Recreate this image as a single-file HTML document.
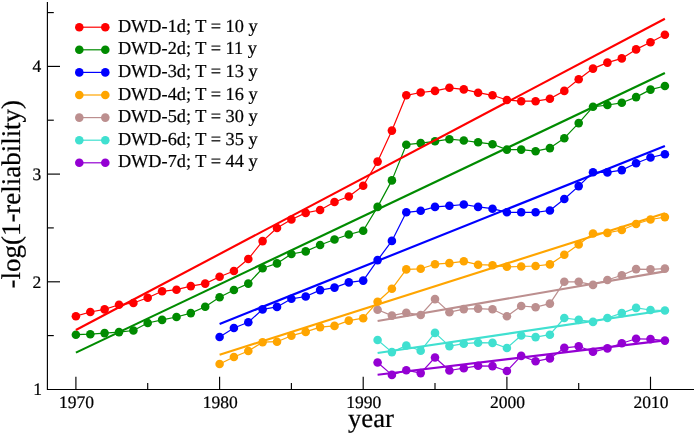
<!DOCTYPE html>
<html><head><meta charset="utf-8"><title>chart</title>
<style>
html,body{margin:0;padding:0;background:#fff;}
body{width:696px;height:435px;overflow:hidden;}
svg{display:block;will-change:transform;}
text{font-family:"Liberation Serif",serif;fill:#000;stroke:#000;stroke-width:0.22px;text-rendering:geometricPrecision;}
</style></head><body>
<svg width="696" height="435" viewBox="0 0 696 435">
<g stroke="#ff0000" fill="#ff0000">
<polyline points="75.9,316.2 90.3,312.0 104.6,309.4 119.0,304.8 133.4,303.0 147.7,297.8 162.1,291.3 176.5,289.7 190.8,286.1 205.2,283.6 219.6,276.7 233.9,271.0 248.3,259.0 262.6,241.1 277.0,228.0 291.4,219.5 305.7,212.9 320.1,210.0 334.5,202.0 348.8,196.5 363.2,185.8 377.6,161.6 391.9,130.6 406.3,95.3 420.7,92.5 435.0,90.9 449.4,87.8 463.8,89.4 478.1,92.7 492.5,95.3 506.9,100.0 521.2,101.2 535.6,101.2 549.9,98.8 564.3,90.9 578.7,79.2 593.0,68.6 607.4,62.6 621.8,58.4 636.1,49.4 650.5,42.3 664.9,34.8" fill="none" stroke-width="1.2" stroke-linejoin="round"/>
<circle cx="75.9" cy="316.2" r="4.3" stroke="none"/><circle cx="90.3" cy="312.0" r="4.3" stroke="none"/><circle cx="104.6" cy="309.4" r="4.3" stroke="none"/><circle cx="119.0" cy="304.8" r="4.3" stroke="none"/><circle cx="133.4" cy="303.0" r="4.3" stroke="none"/><circle cx="147.7" cy="297.8" r="4.3" stroke="none"/><circle cx="162.1" cy="291.3" r="4.3" stroke="none"/><circle cx="176.5" cy="289.7" r="4.3" stroke="none"/><circle cx="190.8" cy="286.1" r="4.3" stroke="none"/><circle cx="205.2" cy="283.6" r="4.3" stroke="none"/><circle cx="219.6" cy="276.7" r="4.3" stroke="none"/><circle cx="233.9" cy="271.0" r="4.3" stroke="none"/><circle cx="248.3" cy="259.0" r="4.3" stroke="none"/><circle cx="262.6" cy="241.1" r="4.3" stroke="none"/><circle cx="277.0" cy="228.0" r="4.3" stroke="none"/><circle cx="291.4" cy="219.5" r="4.3" stroke="none"/><circle cx="305.7" cy="212.9" r="4.3" stroke="none"/><circle cx="320.1" cy="210.0" r="4.3" stroke="none"/><circle cx="334.5" cy="202.0" r="4.3" stroke="none"/><circle cx="348.8" cy="196.5" r="4.3" stroke="none"/><circle cx="363.2" cy="185.8" r="4.3" stroke="none"/><circle cx="377.6" cy="161.6" r="4.3" stroke="none"/><circle cx="391.9" cy="130.6" r="4.3" stroke="none"/><circle cx="406.3" cy="95.3" r="4.3" stroke="none"/><circle cx="420.7" cy="92.5" r="4.3" stroke="none"/><circle cx="435.0" cy="90.9" r="4.3" stroke="none"/><circle cx="449.4" cy="87.8" r="4.3" stroke="none"/><circle cx="463.8" cy="89.4" r="4.3" stroke="none"/><circle cx="478.1" cy="92.7" r="4.3" stroke="none"/><circle cx="492.5" cy="95.3" r="4.3" stroke="none"/><circle cx="506.9" cy="100.0" r="4.3" stroke="none"/><circle cx="521.2" cy="101.2" r="4.3" stroke="none"/><circle cx="535.6" cy="101.2" r="4.3" stroke="none"/><circle cx="549.9" cy="98.8" r="4.3" stroke="none"/><circle cx="564.3" cy="90.9" r="4.3" stroke="none"/><circle cx="578.7" cy="79.2" r="4.3" stroke="none"/><circle cx="593.0" cy="68.6" r="4.3" stroke="none"/><circle cx="607.4" cy="62.6" r="4.3" stroke="none"/><circle cx="621.8" cy="58.4" r="4.3" stroke="none"/><circle cx="636.1" cy="49.4" r="4.3" stroke="none"/><circle cx="650.5" cy="42.3" r="4.3" stroke="none"/><circle cx="664.9" cy="34.8" r="4.3" stroke="none"/>
</g>
<g stroke="#008b00" fill="#008b00">
<polyline points="75.9,334.7 90.3,334.2 104.6,333.1 119.0,332.1 133.4,330.5 147.7,323.0 162.1,319.9 176.5,317.0 190.8,313.1 205.2,306.7 219.6,297.3 233.9,290.0 248.3,283.6 262.6,268.3 277.0,263.4 291.4,254.0 305.7,251.4 320.1,245.0 334.5,239.5 348.8,234.5 363.2,230.7 377.6,206.9 391.9,180.4 406.3,144.7 420.7,143.1 435.0,141.3 449.4,139.2 463.8,140.5 478.1,142.3 492.5,144.2 506.9,149.6 521.2,149.6 535.6,151.2 549.9,148.1 564.3,138.2 578.7,123.1 593.0,106.8 607.4,105.0 621.8,102.8 636.1,97.1 650.5,89.6 664.9,86.0" fill="none" stroke-width="1.2" stroke-linejoin="round"/>
<circle cx="75.9" cy="334.7" r="4.3" stroke="none"/><circle cx="90.3" cy="334.2" r="4.3" stroke="none"/><circle cx="104.6" cy="333.1" r="4.3" stroke="none"/><circle cx="119.0" cy="332.1" r="4.3" stroke="none"/><circle cx="133.4" cy="330.5" r="4.3" stroke="none"/><circle cx="147.7" cy="323.0" r="4.3" stroke="none"/><circle cx="162.1" cy="319.9" r="4.3" stroke="none"/><circle cx="176.5" cy="317.0" r="4.3" stroke="none"/><circle cx="190.8" cy="313.1" r="4.3" stroke="none"/><circle cx="205.2" cy="306.7" r="4.3" stroke="none"/><circle cx="219.6" cy="297.3" r="4.3" stroke="none"/><circle cx="233.9" cy="290.0" r="4.3" stroke="none"/><circle cx="248.3" cy="283.6" r="4.3" stroke="none"/><circle cx="262.6" cy="268.3" r="4.3" stroke="none"/><circle cx="277.0" cy="263.4" r="4.3" stroke="none"/><circle cx="291.4" cy="254.0" r="4.3" stroke="none"/><circle cx="305.7" cy="251.4" r="4.3" stroke="none"/><circle cx="320.1" cy="245.0" r="4.3" stroke="none"/><circle cx="334.5" cy="239.5" r="4.3" stroke="none"/><circle cx="348.8" cy="234.5" r="4.3" stroke="none"/><circle cx="363.2" cy="230.7" r="4.3" stroke="none"/><circle cx="377.6" cy="206.9" r="4.3" stroke="none"/><circle cx="391.9" cy="180.4" r="4.3" stroke="none"/><circle cx="406.3" cy="144.7" r="4.3" stroke="none"/><circle cx="420.7" cy="143.1" r="4.3" stroke="none"/><circle cx="435.0" cy="141.3" r="4.3" stroke="none"/><circle cx="449.4" cy="139.2" r="4.3" stroke="none"/><circle cx="463.8" cy="140.5" r="4.3" stroke="none"/><circle cx="478.1" cy="142.3" r="4.3" stroke="none"/><circle cx="492.5" cy="144.2" r="4.3" stroke="none"/><circle cx="506.9" cy="149.6" r="4.3" stroke="none"/><circle cx="521.2" cy="149.6" r="4.3" stroke="none"/><circle cx="535.6" cy="151.2" r="4.3" stroke="none"/><circle cx="549.9" cy="148.1" r="4.3" stroke="none"/><circle cx="564.3" cy="138.2" r="4.3" stroke="none"/><circle cx="578.7" cy="123.1" r="4.3" stroke="none"/><circle cx="593.0" cy="106.8" r="4.3" stroke="none"/><circle cx="607.4" cy="105.0" r="4.3" stroke="none"/><circle cx="621.8" cy="102.8" r="4.3" stroke="none"/><circle cx="636.1" cy="97.1" r="4.3" stroke="none"/><circle cx="650.5" cy="89.6" r="4.3" stroke="none"/><circle cx="664.9" cy="86.0" r="4.3" stroke="none"/>
</g>
<g stroke="#0000ff" fill="#0000ff">
<polyline points="219.6,337.0 233.9,328.0 248.3,322.2 262.6,309.4 277.0,306.9 291.4,298.8 305.7,296.5 320.1,290.1 334.5,287.6 348.8,282.4 363.2,280.6 377.6,260.1 391.9,240.9 406.3,212.3 420.7,210.8 435.0,206.9 449.4,205.8 463.8,204.5 478.1,206.9 492.5,208.7 506.9,212.3 521.2,212.3 535.6,212.3 549.9,210.5 564.3,199.0 578.7,186.1 593.0,172.2 607.4,172.4 621.8,170.1 636.1,163.2 650.5,157.5 664.9,154.2" fill="none" stroke-width="1.2" stroke-linejoin="round"/>
<circle cx="219.6" cy="337.0" r="4.3" stroke="none"/><circle cx="233.9" cy="328.0" r="4.3" stroke="none"/><circle cx="248.3" cy="322.2" r="4.3" stroke="none"/><circle cx="262.6" cy="309.4" r="4.3" stroke="none"/><circle cx="277.0" cy="306.9" r="4.3" stroke="none"/><circle cx="291.4" cy="298.8" r="4.3" stroke="none"/><circle cx="305.7" cy="296.5" r="4.3" stroke="none"/><circle cx="320.1" cy="290.1" r="4.3" stroke="none"/><circle cx="334.5" cy="287.6" r="4.3" stroke="none"/><circle cx="348.8" cy="282.4" r="4.3" stroke="none"/><circle cx="363.2" cy="280.6" r="4.3" stroke="none"/><circle cx="377.6" cy="260.1" r="4.3" stroke="none"/><circle cx="391.9" cy="240.9" r="4.3" stroke="none"/><circle cx="406.3" cy="212.3" r="4.3" stroke="none"/><circle cx="420.7" cy="210.8" r="4.3" stroke="none"/><circle cx="435.0" cy="206.9" r="4.3" stroke="none"/><circle cx="449.4" cy="205.8" r="4.3" stroke="none"/><circle cx="463.8" cy="204.5" r="4.3" stroke="none"/><circle cx="478.1" cy="206.9" r="4.3" stroke="none"/><circle cx="492.5" cy="208.7" r="4.3" stroke="none"/><circle cx="506.9" cy="212.3" r="4.3" stroke="none"/><circle cx="521.2" cy="212.3" r="4.3" stroke="none"/><circle cx="535.6" cy="212.3" r="4.3" stroke="none"/><circle cx="549.9" cy="210.5" r="4.3" stroke="none"/><circle cx="564.3" cy="199.0" r="4.3" stroke="none"/><circle cx="578.7" cy="186.1" r="4.3" stroke="none"/><circle cx="593.0" cy="172.2" r="4.3" stroke="none"/><circle cx="607.4" cy="172.4" r="4.3" stroke="none"/><circle cx="621.8" cy="170.1" r="4.3" stroke="none"/><circle cx="636.1" cy="163.2" r="4.3" stroke="none"/><circle cx="650.5" cy="157.5" r="4.3" stroke="none"/><circle cx="664.9" cy="154.2" r="4.3" stroke="none"/>
</g>
<g stroke="#ffa500" fill="#ffa500">
<polyline points="219.6,364.0 233.9,357.0 248.3,351.0 262.6,342.2 277.0,341.7 291.4,335.7 305.7,331.9 320.1,327.1 334.5,325.9 348.8,320.6 363.2,318.2 377.6,301.8 391.9,288.8 406.3,269.4 420.7,268.8 435.0,264.2 449.4,263.1 463.8,261.3 478.1,264.7 492.5,265.2 506.9,266.8 521.2,266.5 535.6,266.0 549.9,264.4 564.3,254.8 578.7,244.5 593.0,233.5 607.4,232.9 621.8,230.0 636.1,224.0 650.5,219.5 664.9,217.1" fill="none" stroke-width="1.2" stroke-linejoin="round"/>
<circle cx="219.6" cy="364.0" r="4.3" stroke="none"/><circle cx="233.9" cy="357.0" r="4.3" stroke="none"/><circle cx="248.3" cy="351.0" r="4.3" stroke="none"/><circle cx="262.6" cy="342.2" r="4.3" stroke="none"/><circle cx="277.0" cy="341.7" r="4.3" stroke="none"/><circle cx="291.4" cy="335.7" r="4.3" stroke="none"/><circle cx="305.7" cy="331.9" r="4.3" stroke="none"/><circle cx="320.1" cy="327.1" r="4.3" stroke="none"/><circle cx="334.5" cy="325.9" r="4.3" stroke="none"/><circle cx="348.8" cy="320.6" r="4.3" stroke="none"/><circle cx="363.2" cy="318.2" r="4.3" stroke="none"/><circle cx="377.6" cy="301.8" r="4.3" stroke="none"/><circle cx="391.9" cy="288.8" r="4.3" stroke="none"/><circle cx="406.3" cy="269.4" r="4.3" stroke="none"/><circle cx="420.7" cy="268.8" r="4.3" stroke="none"/><circle cx="435.0" cy="264.2" r="4.3" stroke="none"/><circle cx="449.4" cy="263.1" r="4.3" stroke="none"/><circle cx="463.8" cy="261.3" r="4.3" stroke="none"/><circle cx="478.1" cy="264.7" r="4.3" stroke="none"/><circle cx="492.5" cy="265.2" r="4.3" stroke="none"/><circle cx="506.9" cy="266.8" r="4.3" stroke="none"/><circle cx="521.2" cy="266.5" r="4.3" stroke="none"/><circle cx="535.6" cy="266.0" r="4.3" stroke="none"/><circle cx="549.9" cy="264.4" r="4.3" stroke="none"/><circle cx="564.3" cy="254.8" r="4.3" stroke="none"/><circle cx="578.7" cy="244.5" r="4.3" stroke="none"/><circle cx="593.0" cy="233.5" r="4.3" stroke="none"/><circle cx="607.4" cy="232.9" r="4.3" stroke="none"/><circle cx="621.8" cy="230.0" r="4.3" stroke="none"/><circle cx="636.1" cy="224.0" r="4.3" stroke="none"/><circle cx="650.5" cy="219.5" r="4.3" stroke="none"/><circle cx="664.9" cy="217.1" r="4.3" stroke="none"/>
</g>
<g stroke="#bc8f8f" fill="#bc8f8f">
<polyline points="377.6,309.7 391.9,315.6 406.3,312.7 420.7,315.0 435.0,299.1 449.4,312.2 463.8,309.1 478.1,308.6 492.5,309.3 506.9,316.3 521.2,306.0 535.6,307.2 549.9,303.6 564.3,281.8 578.7,281.8 593.0,284.9 607.4,280.0 621.8,275.3 636.1,269.1 650.5,269.3 664.9,268.6" fill="none" stroke-width="1.2" stroke-linejoin="round"/>
<circle cx="377.6" cy="309.7" r="4.3" stroke="none"/><circle cx="391.9" cy="315.6" r="4.3" stroke="none"/><circle cx="406.3" cy="312.7" r="4.3" stroke="none"/><circle cx="420.7" cy="315.0" r="4.3" stroke="none"/><circle cx="435.0" cy="299.1" r="4.3" stroke="none"/><circle cx="449.4" cy="312.2" r="4.3" stroke="none"/><circle cx="463.8" cy="309.1" r="4.3" stroke="none"/><circle cx="478.1" cy="308.6" r="4.3" stroke="none"/><circle cx="492.5" cy="309.3" r="4.3" stroke="none"/><circle cx="506.9" cy="316.3" r="4.3" stroke="none"/><circle cx="521.2" cy="306.0" r="4.3" stroke="none"/><circle cx="535.6" cy="307.2" r="4.3" stroke="none"/><circle cx="549.9" cy="303.6" r="4.3" stroke="none"/><circle cx="564.3" cy="281.8" r="4.3" stroke="none"/><circle cx="578.7" cy="281.8" r="4.3" stroke="none"/><circle cx="593.0" cy="284.9" r="4.3" stroke="none"/><circle cx="607.4" cy="280.0" r="4.3" stroke="none"/><circle cx="621.8" cy="275.3" r="4.3" stroke="none"/><circle cx="636.1" cy="269.1" r="4.3" stroke="none"/><circle cx="650.5" cy="269.3" r="4.3" stroke="none"/><circle cx="664.9" cy="268.6" r="4.3" stroke="none"/>
</g>
<g stroke="#40e0d0" fill="#40e0d0">
<polyline points="377.6,340.0 391.9,352.1 406.3,345.5 420.7,350.8 435.0,332.9 449.4,346.1 463.8,343.7 478.1,342.7 492.5,342.9 506.9,348.0 521.2,335.5 535.6,337.1 549.9,334.7 564.3,318.0 578.7,319.9 593.0,321.9 607.4,318.0 621.8,313.1 636.1,307.9 650.5,310.0 664.9,310.5" fill="none" stroke-width="1.2" stroke-linejoin="round"/>
<circle cx="377.6" cy="340.0" r="4.3" stroke="none"/><circle cx="391.9" cy="352.1" r="4.3" stroke="none"/><circle cx="406.3" cy="345.5" r="4.3" stroke="none"/><circle cx="420.7" cy="350.8" r="4.3" stroke="none"/><circle cx="435.0" cy="332.9" r="4.3" stroke="none"/><circle cx="449.4" cy="346.1" r="4.3" stroke="none"/><circle cx="463.8" cy="343.7" r="4.3" stroke="none"/><circle cx="478.1" cy="342.7" r="4.3" stroke="none"/><circle cx="492.5" cy="342.9" r="4.3" stroke="none"/><circle cx="506.9" cy="348.0" r="4.3" stroke="none"/><circle cx="521.2" cy="335.5" r="4.3" stroke="none"/><circle cx="535.6" cy="337.1" r="4.3" stroke="none"/><circle cx="549.9" cy="334.7" r="4.3" stroke="none"/><circle cx="564.3" cy="318.0" r="4.3" stroke="none"/><circle cx="578.7" cy="319.9" r="4.3" stroke="none"/><circle cx="593.0" cy="321.9" r="4.3" stroke="none"/><circle cx="607.4" cy="318.0" r="4.3" stroke="none"/><circle cx="621.8" cy="313.1" r="4.3" stroke="none"/><circle cx="636.1" cy="307.9" r="4.3" stroke="none"/><circle cx="650.5" cy="310.0" r="4.3" stroke="none"/><circle cx="664.9" cy="310.5" r="4.3" stroke="none"/>
</g>
<g stroke="#9400d3" fill="#9400d3">
<polyline points="377.6,362.5 391.9,374.9 406.3,370.2 420.7,373.1 435.0,357.5 449.4,370.5 463.8,368.2 478.1,365.8 492.5,366.1 506.9,371.0 521.2,355.9 535.6,361.3 549.9,358.4 564.3,347.9 578.7,346.3 593.0,351.8 607.4,348.4 621.8,343.2 636.1,338.8 650.5,339.1 664.9,340.6" fill="none" stroke-width="1.2" stroke-linejoin="round"/>
<circle cx="377.6" cy="362.5" r="4.3" stroke="none"/><circle cx="391.9" cy="374.9" r="4.3" stroke="none"/><circle cx="406.3" cy="370.2" r="4.3" stroke="none"/><circle cx="420.7" cy="373.1" r="4.3" stroke="none"/><circle cx="435.0" cy="357.5" r="4.3" stroke="none"/><circle cx="449.4" cy="370.5" r="4.3" stroke="none"/><circle cx="463.8" cy="368.2" r="4.3" stroke="none"/><circle cx="478.1" cy="365.8" r="4.3" stroke="none"/><circle cx="492.5" cy="366.1" r="4.3" stroke="none"/><circle cx="506.9" cy="371.0" r="4.3" stroke="none"/><circle cx="521.2" cy="355.9" r="4.3" stroke="none"/><circle cx="535.6" cy="361.3" r="4.3" stroke="none"/><circle cx="549.9" cy="358.4" r="4.3" stroke="none"/><circle cx="564.3" cy="347.9" r="4.3" stroke="none"/><circle cx="578.7" cy="346.3" r="4.3" stroke="none"/><circle cx="593.0" cy="351.8" r="4.3" stroke="none"/><circle cx="607.4" cy="348.4" r="4.3" stroke="none"/><circle cx="621.8" cy="343.2" r="4.3" stroke="none"/><circle cx="636.1" cy="338.8" r="4.3" stroke="none"/><circle cx="650.5" cy="339.1" r="4.3" stroke="none"/><circle cx="664.9" cy="340.6" r="4.3" stroke="none"/>
</g>
<g stroke-width="2.15" stroke-linecap="butt" fill="none">
<line x1="75.9" y1="330.0" x2="664.9" y2="18.7" stroke="#ff0000"/>
<line x1="75.9" y1="352.6" x2="664.9" y2="73.0" stroke="#008b00"/>
<line x1="219.6" y1="324.0" x2="664.9" y2="146.0" stroke="#0000ff"/>
<line x1="219.6" y1="354.8" x2="664.9" y2="213.2" stroke="#ffa500"/>
<line x1="377.6" y1="321.0" x2="664.9" y2="271.4" stroke="#bc8f8f"/>
<line x1="377.6" y1="353.0" x2="664.9" y2="310.3" stroke="#40e0d0"/>
<line x1="377.6" y1="374.8" x2="664.9" y2="340.4" stroke="#9400d3"/>
</g>
<g stroke="#000" stroke-width="1.15" fill="none" stroke-linecap="butt">
<path d="M47.4 2.0 V389.5 H694.0"/>
<line x1="47.4" y1="335.6" x2="53.8" y2="335.6"/>
<line x1="47.4" y1="281.8" x2="60.0" y2="281.8"/>
<line x1="47.4" y1="227.9" x2="53.8" y2="227.9"/>
<line x1="47.4" y1="174.1" x2="60.0" y2="174.1"/>
<line x1="47.4" y1="120.2" x2="53.8" y2="120.2"/>
<line x1="47.4" y1="66.4" x2="60.0" y2="66.4"/>
<line x1="47.4" y1="12.6" x2="53.8" y2="12.6"/>
<line x1="75.9" y1="389.5" x2="75.9" y2="376.7"/>
<line x1="147.7" y1="389.5" x2="147.7" y2="383.0"/>
<line x1="219.6" y1="389.5" x2="219.6" y2="376.7"/>
<line x1="291.4" y1="389.5" x2="291.4" y2="383.0"/>
<line x1="363.2" y1="389.5" x2="363.2" y2="376.7"/>
<line x1="435.0" y1="389.5" x2="435.0" y2="383.0"/>
<line x1="506.9" y1="389.5" x2="506.9" y2="376.7"/>
<line x1="578.7" y1="389.5" x2="578.7" y2="383.0"/>
<line x1="650.5" y1="389.5" x2="650.5" y2="376.7"/>
</g>
<g font-size="17.5">
<text x="76.5" y="407.6" text-anchor="middle">1970</text>
<text x="220.2" y="407.6" text-anchor="middle">1980</text>
<text x="363.8" y="407.6" text-anchor="middle">1990</text>
<text x="507.5" y="407.6" text-anchor="middle">2000</text>
<text x="651.1" y="407.6" text-anchor="middle">2010</text>
<text x="41.9" y="395.2" text-anchor="end">1</text>
<text x="41.3" y="287.5" text-anchor="end">2</text>
<text x="41.3" y="179.8" text-anchor="end">3</text>
<text x="41.3" y="72.1" text-anchor="end">4</text>
</g>
<text x="370.9" y="427.2" font-size="26.7" text-anchor="middle">year</text>
<text transform="translate(19.7 194.2) rotate(-90)" font-size="26.95" text-anchor="middle">-log(1-reliability)</text>
<g stroke="#ff0000" fill="#ff0000"><line x1="79.3" y1="27.2" x2="105.3" y2="27.2" stroke-width="1.2"/><circle cx="79.3" cy="27.2" r="4.3" stroke="none"/><circle cx="105.3" cy="27.2" r="4.3" stroke="none"/></g>
<text x="117.9" y="31.8" font-size="18.3">DWD-1d; T = 10 y</text>
<g stroke="#008b00" fill="#008b00"><line x1="79.3" y1="49.8" x2="105.3" y2="49.8" stroke-width="1.2"/><circle cx="79.3" cy="49.8" r="4.3" stroke="none"/><circle cx="105.3" cy="49.8" r="4.3" stroke="none"/></g>
<text x="117.9" y="54.4" font-size="18.3">DWD-2d; T = 11 y</text>
<g stroke="#0000ff" fill="#0000ff"><line x1="79.3" y1="72.4" x2="105.3" y2="72.4" stroke-width="1.2"/><circle cx="79.3" cy="72.4" r="4.3" stroke="none"/><circle cx="105.3" cy="72.4" r="4.3" stroke="none"/></g>
<text x="117.9" y="77.0" font-size="18.3">DWD-3d; T = 13 y</text>
<g stroke="#ffa500" fill="#ffa500"><line x1="79.3" y1="95.0" x2="105.3" y2="95.0" stroke-width="1.2"/><circle cx="79.3" cy="95.0" r="4.3" stroke="none"/><circle cx="105.3" cy="95.0" r="4.3" stroke="none"/></g>
<text x="117.9" y="99.6" font-size="18.3">DWD-4d; T = 16 y</text>
<g stroke="#bc8f8f" fill="#bc8f8f"><line x1="79.3" y1="117.6" x2="105.3" y2="117.6" stroke-width="1.2"/><circle cx="79.3" cy="117.6" r="4.3" stroke="none"/><circle cx="105.3" cy="117.6" r="4.3" stroke="none"/></g>
<text x="117.9" y="122.2" font-size="18.3">DWD-5d; T = 30 y</text>
<g stroke="#40e0d0" fill="#40e0d0"><line x1="79.3" y1="140.2" x2="105.3" y2="140.2" stroke-width="1.2"/><circle cx="79.3" cy="140.2" r="4.3" stroke="none"/><circle cx="105.3" cy="140.2" r="4.3" stroke="none"/></g>
<text x="117.9" y="144.8" font-size="18.3">DWD-6d; T = 35 y</text>
<g stroke="#9400d3" fill="#9400d3"><line x1="79.3" y1="162.8" x2="105.3" y2="162.8" stroke-width="1.2"/><circle cx="79.3" cy="162.8" r="4.3" stroke="none"/><circle cx="105.3" cy="162.8" r="4.3" stroke="none"/></g>
<text x="117.9" y="167.4" font-size="18.3">DWD-7d; T = 44 y</text>
</svg>
</body></html>
